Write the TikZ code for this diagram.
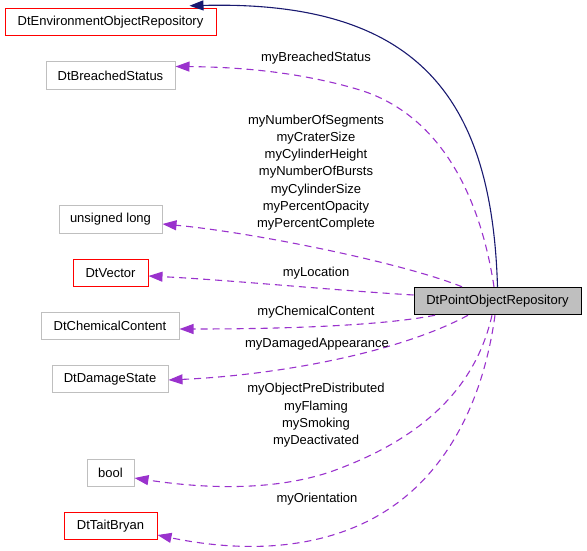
\documentclass[tikz,border=0pt]{standalone}
\usepackage{fontspec}
\setmainfont{Liberation Sans}
\usetikzlibrary{arrows.meta}
\definecolor{edgepurple}{HTML}{9A32CD}
\definecolor{edgenavy}{HTML}{191970}
\definecolor{boxgray}{HTML}{BFBFBF}
\definecolor{boxred}{HTML}{FF0000}
\tikzset{
  cls/.style={draw, line width=1pt, minimum height=27.5pt, inner sep=0pt, font=\fontsize{13pt}{17.3pt}\selectfont},
  graybox/.style={cls, draw=boxgray},
  redbox/.style={cls, draw=boxred},
  mainbox/.style={cls, draw=black, fill=boxgray},
  lbl/.style={align=center, inner sep=0pt, font=\fontsize{13pt}{17.3pt}\selectfont},
  uses/.style={draw=edgepurple, line width=1.1pt, dash pattern=on 7pt off 5pt, -{Triangle[length=14pt,width=10pt]}, edgepurple},
  inherits/.style={draw=edgenavy, line width=1.1pt, -{Triangle[length=14pt,width=10pt]}, edgenavy}
}
\begin{document}
\begin{tikzpicture}[x=1pt, y=-1pt]
\useasboundingbox (0,0) rectangle (587,550);
% nodes
\node[redbox,  minimum width=211pt] (env)   at (110.5,22)   {DtEnvironmentObjectRepository};
\node[graybox, minimum width=129pt] (breach) at (110.5,75.5) {DtBreachedStatus};
\node[graybox, minimum width=103pt] (ulong) at (110.5,219.5) {unsigned long};
\node[redbox,  minimum width=75pt]  (vec)   at (110.5,273)  {DtVector};
\node[graybox, minimum width=138pt] (chem)  at (110,326)    {DtChemicalContent};
\node[graybox, minimum width=116pt] (dmg)   at (110,379)    {DtDamageState};
\node[graybox, minimum width=47pt]  (bool)  at (110.5,473)  {bool};
\node[redbox,  minimum width=93pt]  (tait)  at (110.5,526)  {DtTaitBryan};
\node[mainbox, minimum width=167pt] (pt)    at (497.5,301)  {DtPointObjectRepository};
% inheritance
\draw[inherits] (pt.north) .. controls (492,100) and (420,0) .. ([xshift=-27pt,yshift=2pt]env.north east);
% usage edges
\draw[uses] ([xshift=-3.5pt]pt.north) .. controls (480,195) and (440,115) .. (360,90)
   .. controls (300,72) and (240,67) .. ([yshift=9pt]breach.east);
\draw[uses] ([xshift=-35.5pt]pt.north) .. controls (400,262) and (250,232) .. ([yshift=-4.5pt]ulong.east);
\draw[uses] ([yshift=6pt]pt.west) .. controls (330,290) and (230,280) .. ([yshift=-3pt]vec.east);
\draw[uses] ([xshift=-62.5pt]pt.south) .. controls (380,326) and (280,329) .. ([yshift=-3pt]chem.east);
\draw[uses] ([xshift=-29.5pt]pt.south) .. controls (400,352) and (280,375) .. ([yshift=-1pt]dmg.east);
\draw[uses] ([xshift=-5.5pt]pt.south) .. controls (475,390) and (420,440) .. (330,472)
   .. controls (270,492) and (200,488) .. ([yshift=-5pt]bool.east);
\draw[uses] ([xshift=-2.5pt]pt.south) .. controls (482,410) and (440,484) .. (370,520)
   .. controls (300,556) and (220,548) .. ([yshift=-9pt]tait.east);
% labels
\node[lbl] (l1) at (316,58) {myBreachedStatus};
\node[lbl] (l2) at (316,172.6) {myNumberOfSegments\\myCraterSize\\myCylinderHeight\\myNumberOfBursts\\myCylinderSize\\myPercentOpacity\\myPercentComplete};
\node[lbl] (l3) at (316,273) {myLocation};
\node[lbl] (l4) at (316,312.5) {myChemicalContent};
\node[lbl] (l5) at (317,344) {myDamagedAppearance};
\node[lbl] (l6) at (316,415.5) {myObjectPreDistributed\\myFlaming\\mySmoking\\myDeactivated};
\node[lbl] (l7) at (317,499) {myOrientation};
\end{tikzpicture}
\end{document}
